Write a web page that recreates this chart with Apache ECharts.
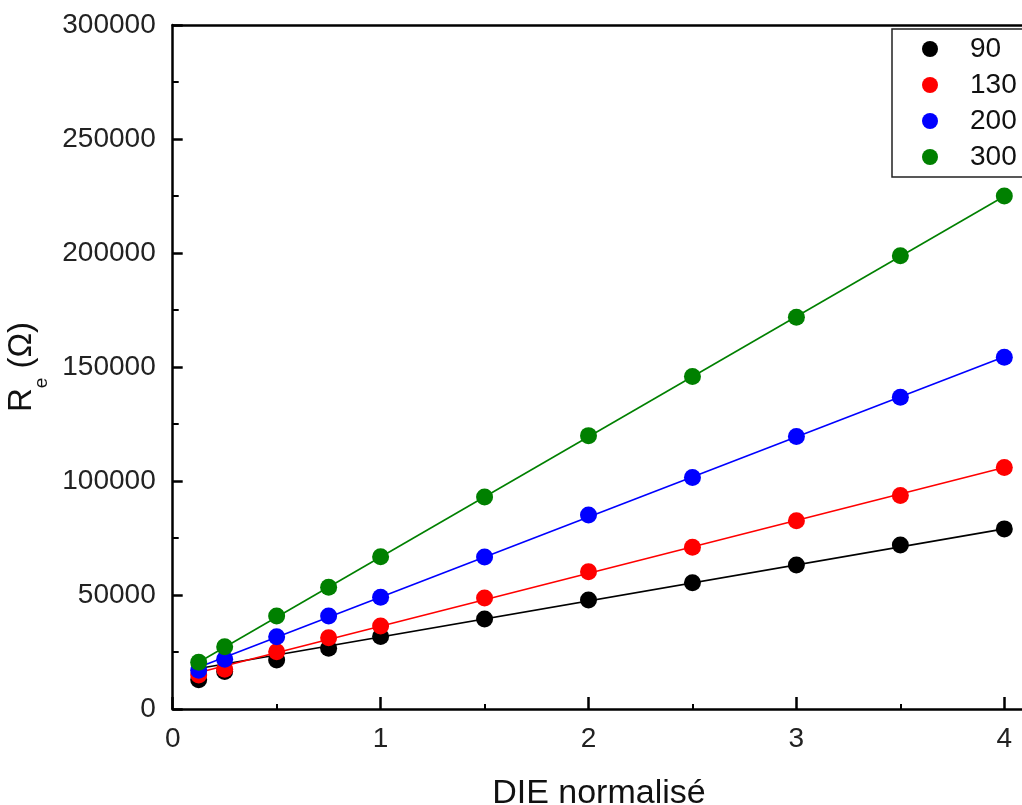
<!DOCTYPE html>
<html>
<head>
<meta charset="utf-8">
<script src="https://cdn.jsdelivr.net/npm/echarts@6/dist/echarts.min.js"></script>
<style>
html,body{margin:0;padding:0;background:#fff;}
#chart{width:1022px;height:805px;}
</style>
</head>
<body>
<div id="chart"></div>
<script>
// ---- data ----
var xVals = [0.125, 0.25, 0.5, 0.75, 1, 1.5, 2, 2.5, 3, 3.5, 4];
var seriesNames = ['90', '130', '200', '300'];
var r90  = [12800, 16400, 21500, 26600, 31800, 39500, 47800, 55400, 63200, 71900, 79000];
var r130 = [14900, 17400, 25100, 31200, 36400, 48700, 60200, 70900, 82600, 93600, 105900];
var r200 = [17000, 21800, 31700, 40800, 49000, 66700, 85100, 101500, 119500, 136700, 154300];
var r300 = [20500, 27300, 40800, 53400, 66800, 93000, 119900, 145800, 171800, 198800, 225000];
// fitted line end points
var fitX = [0.125, 4];
var fit90  = [17800, 79000];
var fit130 = [16000, 105900];
var fit200 = [18300, 154500];
var fit300 = [20500, 224900];
var xTicks = [0, 1, 2, 3, 4];
var yTicks = [0, 50000, 100000, 150000, 200000, 250000, 300000];

var colors = ['#000000', '#ff0000', '#0000ff', '#008000'];
var pts = [r90, r130, r200, r300];
var fits = [fit90, fit130, fit200, fit300];
var FONT = 'Arial, "Liberation Sans", sans-serif';

function pairs(xs, ys) { return xs.map(function (x, i) { return [x, ys[i]]; }); }

var series = [];
for (var i = 0; i < 4; i++) {
  series.push({
    name: seriesNames[i] + ' fit', type: 'line', data: pairs(fitX, fits[i]),
    showSymbol: false, symbol: 'none', silent: true, animation: false,
    lineStyle: { color: colors[i], width: 1.6 }, z: 2
  });
}
for (var j = 0; j < 4; j++) {
  series.push({
    name: seriesNames[j], type: 'scatter', data: pairs(xVals, pts[j]),
    symbol: 'circle', symbolSize: 17, animation: false,
    itemStyle: { color: colors[j], opacity: 1 }, z: 3
  });
}

var chart = echarts.init(document.getElementById('chart'), null, { renderer: 'canvas' });
chart.setOption({
  backgroundColor: '#ffffff',
  animation: false,
  grid: { left: 172.7, top: 25, bottom: 96, right: -3.1, containLabel: false, outerBoundsMode: 'none' },
  legend: {
    data: seriesNames, orient: 'vertical', left: 892, top: 29,
    icon: 'circle', itemWidth: 16, itemHeight: 16, itemGap: 8,
    padding: [6, 40, 6, 30],
    borderColor: '#222', borderWidth: 1.5,
    textStyle: { fontSize: 28, fontFamily: FONT, color: '#111', padding: [0, 0, 0, 27] },
    selectedMode: false
  },
  xAxis: [{
    type: 'value', min: 0, max: 4.1, interval: 1,
    name: 'DIE normalisé', nameLocation: 'middle', nameGap: 68,
    nameTextStyle: { fontSize: 34, fontFamily: FONT, color: '#111' },
    axisLine: { show: true, onZero: false, lineStyle: { color: '#000', width: 2.5 } },
    axisTick: { show: true, inside: true, length: 12, lineStyle: { color: '#000', width: 2.5 } },
    minorTick: { show: true, splitNumber: 2, length: 5, lineStyle: { color: '#000', width: 2 } },
    axisLabel: {
      fontSize: 28, fontFamily: FONT, color: '#222', margin: 16, showMaxLabel: false,
      formatter: function (v) { return xTicks.indexOf(v) >= 0 ? String(v) : ''; }
    },
    splitLine: { show: false }
  }, {
    type: 'value', position: 'top', min: 0, max: 4.1, interval: 1,
    axisLine: { show: true, onZero: false, lineStyle: { color: '#000', width: 2.5 } },
    axisTick: { show: false }, axisLabel: { show: false }, splitLine: { show: false }
  }],
  yAxis: {
    type: 'value', min: 0, max: 300000, interval: 50000,
    name: '{a|R}{b|e}{a| (Ω)}', nameLocation: 'middle', nameGap: 120, nameRotate: 90,
    nameTextStyle: {
      fontFamily: FONT, color: '#111',
      rich: {
        a: { fontSize: 33, lineHeight: 40, fontFamily: FONT, color: '#111', verticalAlign: 'top' },
        b: { fontSize: 19, lineHeight: 19, fontFamily: FONT, color: '#111', verticalAlign: 'top', padding: [27, 0, 0, 0] }
      }
    },
    axisLine: { show: true, onZero: false, lineStyle: { color: '#000', width: 2.5 } },
    axisTick: { show: true, inside: true, length: 10, lineStyle: { color: '#000', width: 2.5 } },
    minorTick: { show: true, splitNumber: 2, length: 6, lineStyle: { color: '#000', width: 2 } },
    axisLabel: {
      fontSize: 28, fontFamily: FONT, color: '#222', margin: 17,
      formatter: function (v) { return yTicks.indexOf(v) >= 0 ? String(v) : ''; }
    },
    splitLine: { show: false }
  },
  series: series
});
</script>
</body>
</html>
